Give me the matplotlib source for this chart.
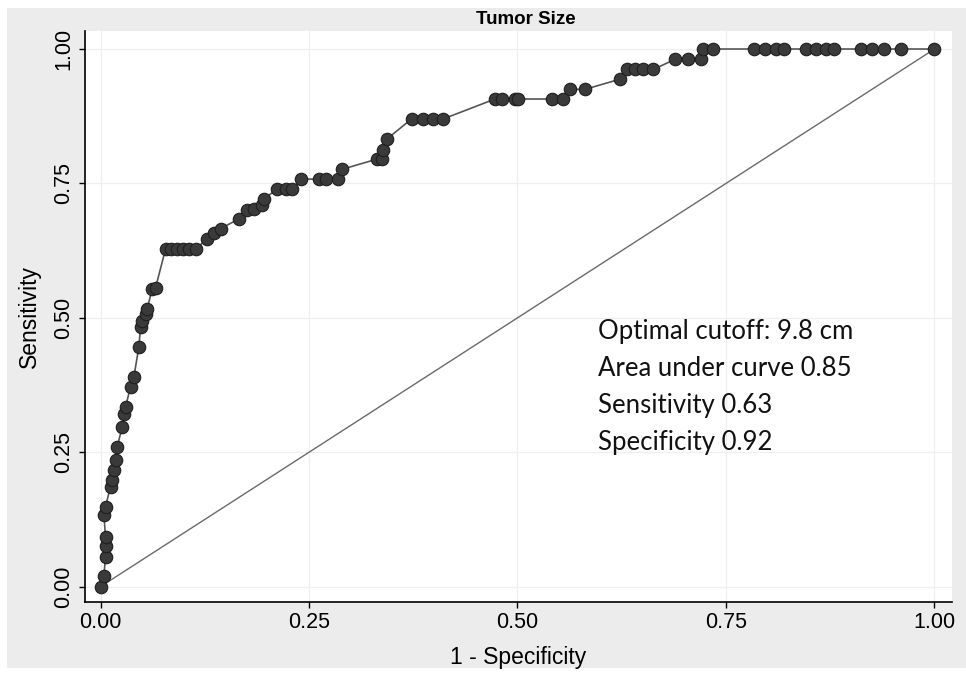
import matplotlib.pyplot as plt
from matplotlib.patches import Rectangle

# ROC points (1 - specificity, sensitivity)
fpr = [0.000, 0.004, 0.006, 0.006, 0.006, 0.004, 0.006, 0.012, 0.014, 0.016,
       0.018, 0.020, 0.026, 0.028, 0.030, 0.036, 0.040, 0.046, 0.048, 0.050,
       0.054, 0.056, 0.062, 0.066,
       0.078, 0.085, 0.092, 0.099, 0.106, 0.114,
       0.128, 0.136, 0.144, 0.166, 0.176, 0.184, 0.194, 0.196,
       0.212, 0.222, 0.230, 0.240, 0.262, 0.270, 0.285, 0.289,
       0.331, 0.337, 0.339, 0.343,
       0.373, 0.387, 0.399, 0.411,
       0.473, 0.481, 0.497, 0.501, 0.541, 0.555, 0.563, 0.581,
       0.623, 0.631, 0.641, 0.651, 0.663,
       0.689, 0.705, 0.720, 0.722, 0.735,
       0.784, 0.797, 0.810, 0.820,
       0.846, 0.858, 0.870, 0.880,
       0.912, 0.925, 0.940, 0.960, 1.000]
tpr = [0.000, 0.019, 0.056, 0.075, 0.093, 0.134, 0.149, 0.186, 0.199, 0.217,
       0.236, 0.260, 0.297, 0.322, 0.334, 0.372, 0.390, 0.446, 0.483, 0.495,
       0.508, 0.517, 0.554, 0.556,
       0.628, 0.628, 0.628, 0.628, 0.628, 0.628,
       0.647, 0.657, 0.666, 0.684, 0.700, 0.703, 0.709, 0.721,
       0.740, 0.740, 0.740, 0.758, 0.758, 0.758, 0.758, 0.776,
       0.795, 0.795, 0.812, 0.832,
       0.870, 0.870, 0.870, 0.870,
       0.907, 0.907, 0.907, 0.907, 0.907, 0.907, 0.925, 0.925,
       0.944, 0.962, 0.962, 0.962, 0.962,
       0.981, 0.981, 0.981, 1.000, 1.000,
       1.000, 1.000, 1.000, 1.000,
       1.000, 1.000, 1.000, 1.000,
       1.000, 1.000, 1.000, 1.000, 1.000]

ticks = [0.0, 0.25, 0.5, 0.75, 1.0]
tick_labels = ["0.00", "0.25", "0.50", "0.75", "1.00"]
note_lines = ["Optimal cutoff: 9.8 cm", "Area under curve 0.85",
              "Sensitivity 0.63", "Specificity 0.92"]

sans = ["Liberation Sans", "DejaVu Sans"]

fig = plt.figure(figsize=(9.66, 6.75), dpi=100, facecolor="white")
# light gray graph region like Stata
fig.patches.append(Rectangle((7 / 966, 1 - 668 / 675), (966 - 7) / 966, (668 - 8) / 675,
                             transform=fig.transFigure, facecolor="#ececec",
                             edgecolor="none", zorder=-10))

ax = fig.add_axes([85 / 966, 1 - 602 / 675, (952 - 85) / 966, (602 - 31) / 675])
ax.set_facecolor("white")

# reference line
ax.plot([0, 1], [0, 1], color="#6a6a6a", lw=1.0, zorder=2)
# ROC curve
ax.plot(fpr, tpr, color="#555555", lw=1.2, marker="o", markersize=9,
        markerfacecolor="#3a3a3a", markeredgecolor="#1e1e1e", markeredgewidth=0.8,
        zorder=3)

ax.set_xlim(-0.0186, 1.021)
ax.set_ylim(-0.0285, 1.0335)

ax.set_xticks(ticks)
ax.set_yticks(ticks)
ax.set_xticklabels(tick_labels, family=sans, fontsize=15.5)
ax.set_yticklabels(tick_labels, family=sans, fontsize=15.5, rotation=90, va="center")
ax.tick_params(direction="out", length=4.5, width=1.0, color="black", pad=3)
ax.grid(True, color="#efefef", lw=0.9)
ax.set_axisbelow(True)

for side in ["top", "right"]:
    ax.spines[side].set_visible(False)
for side in ["left", "bottom"]:
    ax.spines[side].set_linewidth(1.2)
    ax.spines[side].set_color("black")

ax.set_xlabel("1 - Specificity", family=sans, fontsize=16.5, va="center")
ax.set_ylabel("Sensitivity", family=sans, fontsize=16.5, va="center")
ax.xaxis.set_label_coords(0.5, -0.097)
ax.yaxis.set_label_coords(-0.064, 0.5)

ax.set_title("Tumor Size", family=sans, fontsize=13.5, fontweight="bold", pad=5, x=0.509)

ax.text(0.5965, 0.497, "\n".join(note_lines), family=["Lato", "DejaVu Sans"],
        fontsize=18.5, va="top", ha="left", linespacing=1.6, color="#111111")

fig.savefig("out.png", dpi=100, facecolor=fig.get_facecolor())
